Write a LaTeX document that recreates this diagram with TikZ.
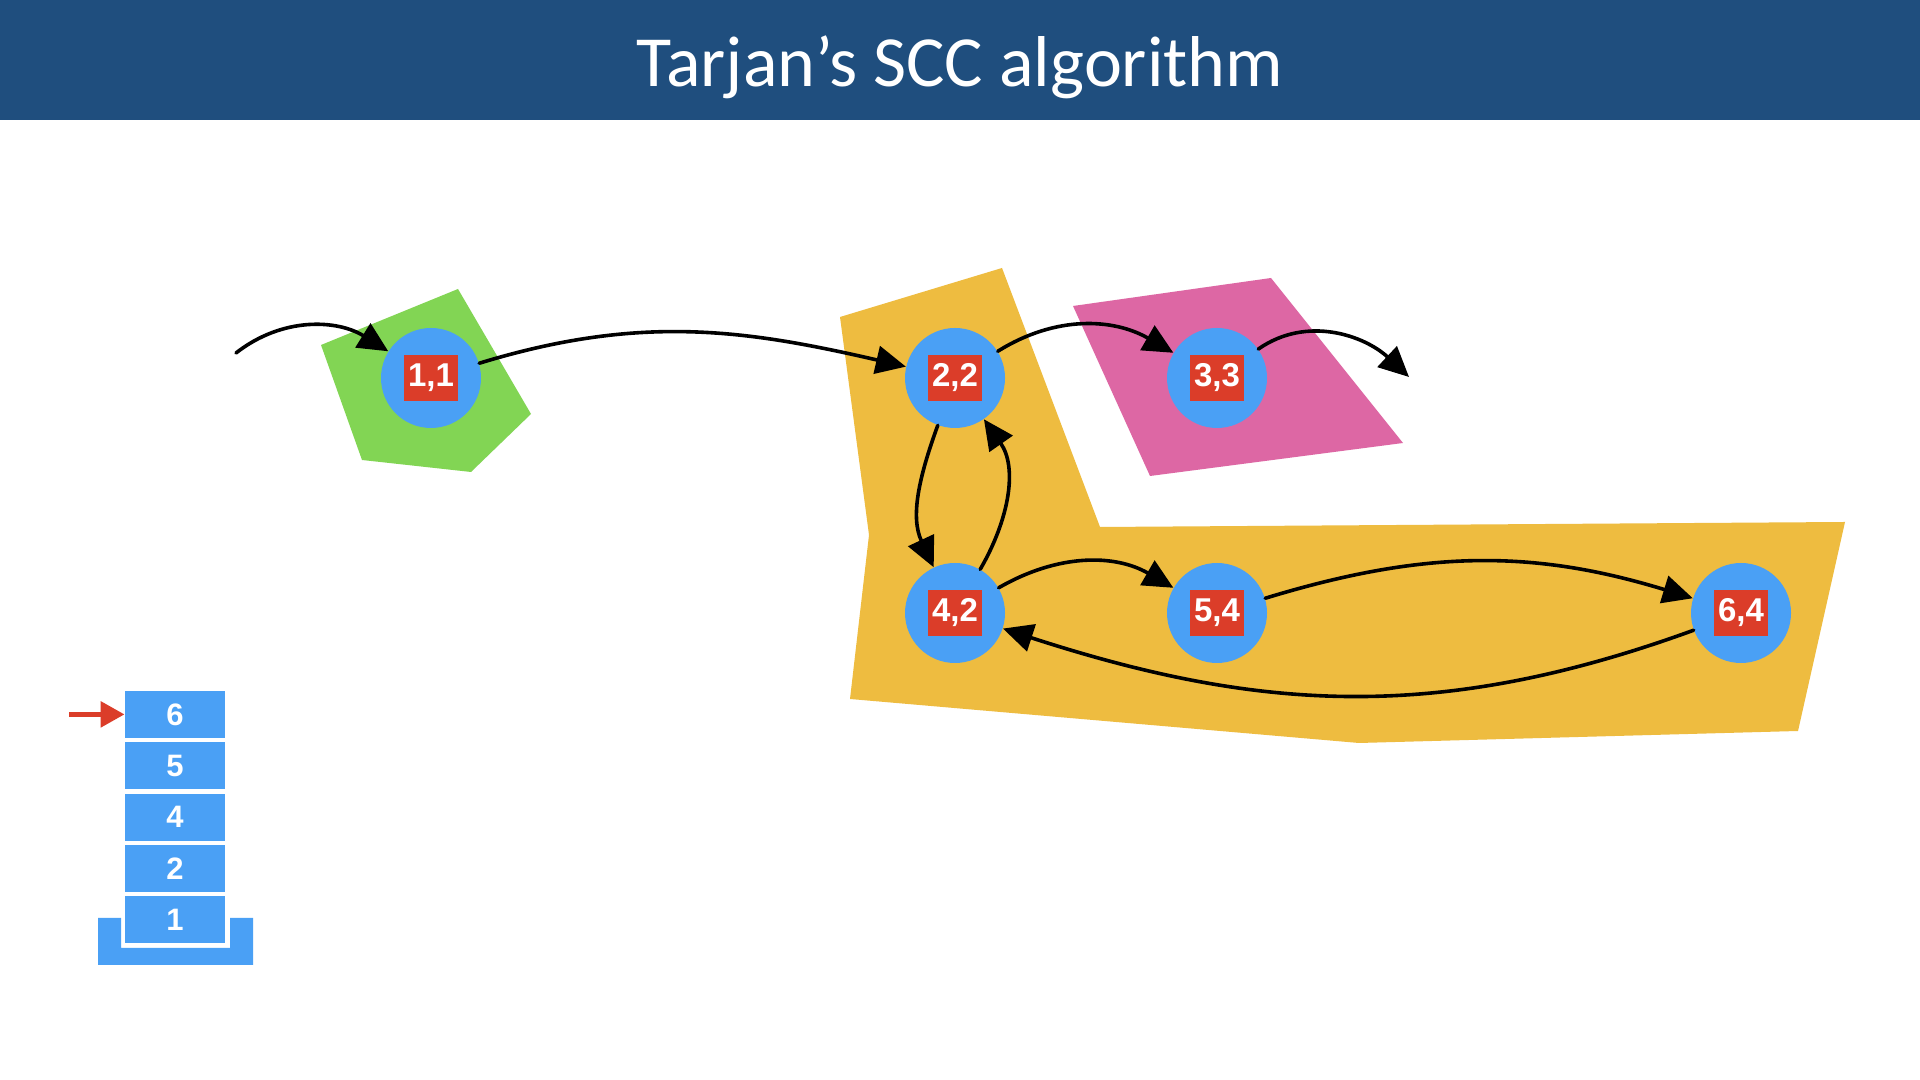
\documentclass[tikz,border=0pt]{standalone}
\usepackage{fontspec}
\setmainfont{Liberation Sans}
\newfontfamily\titlefont{Carlito}
\usetikzlibrary{arrows.meta}

\definecolor{barblue}{RGB}{31,78,126}
\definecolor{vtxblue}{RGB}{74,160,245}
\definecolor{tagred}{RGB}{219,61,41}
\definecolor{sccgreen}{RGB}{130,213,84}
\definecolor{sccyellow}{RGB}{238,188,64}
\definecolor{sccpink}{RGB}{221,103,164}

\tikzset{
  vtx/.style={circle, fill=vtxblue, minimum size=50pt, inner sep=0pt},
  tag/.style={rectangle, fill=tagred, text=white, minimum width=27pt, minimum height=23pt,
              inner sep=0pt, font=\bfseries\fontsize{16.5}{18}\selectfont},
  cell/.style={rectangle, fill=vtxblue, text=white, minimum width=50pt, minimum height=23.5pt,
               inner sep=0pt, font=\bfseries\fontsize{15.5}{17}\selectfont},
  edge/.style={draw=black, line width=1.8pt, line cap=round,
               -{Triangle[length=15pt,width=14pt]}},
  ptr/.style={draw=tagred, line width=2.8pt, -{Triangle[length=12pt,width=12.5pt]}},
}

\begin{document}
\begin{tikzpicture}[x=0.5pt,y=0.5pt]
  \useasboundingbox (0,0) rectangle (1920,1080);
  \fill[white] (0,0) rectangle (1920,1080);

  % title bar
  \fill[barblue] (0,960) rectangle (1920,1080);
  \node[anchor=base, text=white, inner sep=0pt, font=\titlefont\fontsize{36}{40}\selectfont]
    (title) at (960,993) {Tarjan’s SCC algorithm};

  % strongly connected components
  \fill[sccgreen] (321,735) -- (458,791) -- (531,666) -- (471,608) -- (362,620) -- cycle;
  \fill[sccyellow] (840,763) -- (1002,812) -- (1100,553) -- (1845,558) -- (1798,349)
                   -- (1359,337) -- (850,381) -- (869,545) -- cycle;
  \fill[sccpink] (1073,774) -- (1271,802) -- (1403,637) -- (1150,604) -- cycle;

  % vertices: index, lowlink
  \node[vtx] (n11) at (431,702) {};
  \node[vtx] (n22) at (955,702) {};
  \node[vtx] (n33) at (1217,702) {};
  \node[vtx] (n42) at (955,467) {};
  \node[vtx] (n54) at (1217,467) {};
  \node[vtx] (n64) at (1741,467) {};
  \node[tag] (t11) at (n11) {1,1};
  \node[tag] (t22) at (n22) {2,2};
  \node[tag] (t33) at (n33) {3,3};
  \node[tag] (t42) at (n42) {4,2};
  \node[tag] (t54) at (n54) {5,4};
  \node[tag] (t64) at (n64) {6,4};

  % edges
  \coordinate (in0) at (236,727);
  \coordinate (out0) at (1409,703);
  \draw[edge] (in0) to[out=38,in=148] (n11);
  \draw[edge] (n11) to[out=17,in=167] (n22);
  \draw[edge] (n22) to[out=32,in=150] (n33);
  \draw[edge] (n33) to[out=35,in=137] (out0);
  \draw[edge] (n22) to[out=250,in=115] (n42);
  \draw[edge] (n42) to[out=60,in=-55] (n22);
  \draw[edge] (n42) to[out=30,in=150] (n54);
  \draw[edge] (n54) to[out=17,in=163] (n64);
  \draw[edge] (n64) to[out=200,in=-18] (n42);

  % stack
  \fill[vtxblue] (98,115) -- (253,115) -- (253,162) -- (230,162) -- (230,132)
                 -- (121,132) -- (121,162) -- (98,162) -- cycle;
  \node[cell] (s1) at (175,160.0) {1};
  \node[cell] (s2) at (175,211.4) {2};
  \node[cell] (s4) at (175,262.8) {4};
  \node[cell] (s5) at (175,314.2) {5};
  \node[cell] (s6) at (175,365.6) {6};
  \coordinate (ptr0) at (69,365.6);
  \draw[ptr] (ptr0) -- (s6.west);
\end{tikzpicture}
\end{document}
